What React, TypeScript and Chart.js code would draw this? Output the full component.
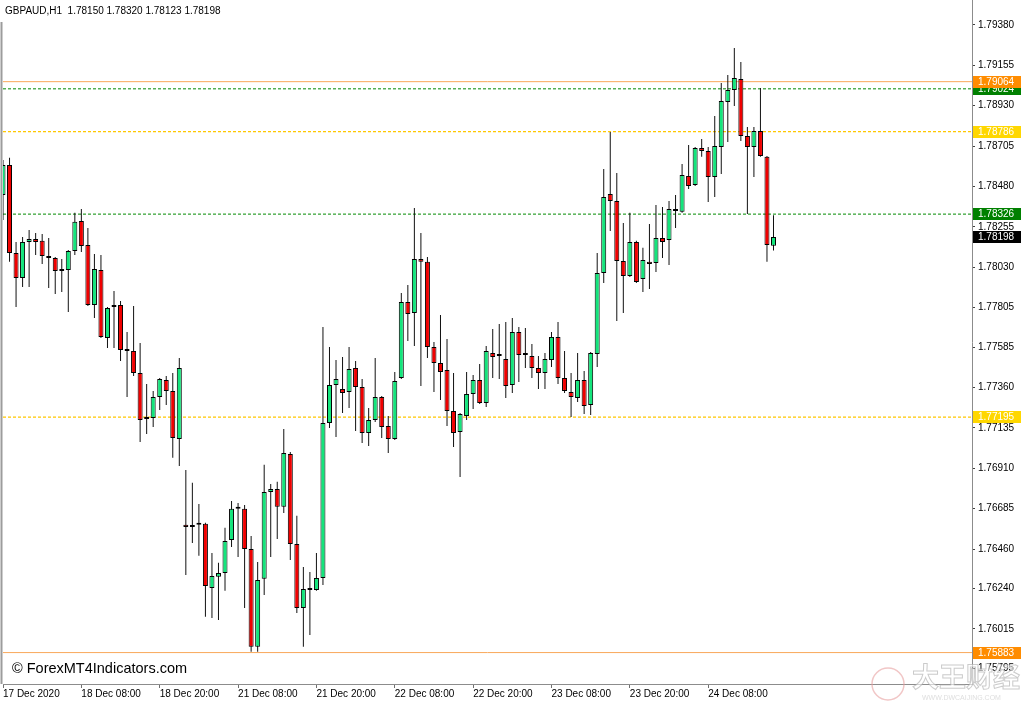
import React, { useEffect, useRef } from "react";
import { Chart, registerables } from "chart.js";

Chart.register(...registerables);

// ---------- data ----------
const SYMBOL = "GBPAUD,H1";
const COPYRIGHT = "© ForexMT4Indicators.com";
const WATERMARK = "大王财经";
const WATERMARK_URL = "WWW.DWCAIJING.COM";

// H1 bars from 17 Dec 2020 20:00 to 24 Dec 2020 18:00
const OPEN = [
  1.78433, 1.786, 1.7811, 1.7797, 1.78171, 1.78188, 1.78177, 1.78093, 1.78082, 1.78009,
  1.78015, 1.78121, 1.78288, 1.78154, 1.7782, 1.78015, 1.77636, 1.77809, 1.7782, 1.77569,
  1.77564, 1.77441, 1.77185, 1.7719, 1.77307, 1.77402, 1.77341, 1.77073, 1.76595, 1.76583,
  1.76595, 1.76601, 1.76243, 1.76305, 1.76327, 1.76511, 1.76695, 1.76684, 1.7646, 1.75915,
  1.76294, 1.76778, 1.76795, 1.76695, 1.7699, 1.76488, 1.76132, 1.76243, 1.76232, 1.76299,
  1.77162, 1.77374, 1.77352, 1.77335, 1.77469, 1.77363, 1.77107, 1.77179, 1.77307, 1.77146,
  1.77073, 1.77413, 1.77837, 1.77775, 1.78076, 1.7806, 1.77586, 1.77496, 1.77458, 1.77229,
  1.77112, 1.77201, 1.77324, 1.77402, 1.77274, 1.77552, 1.77536, 1.77519, 1.77374, 1.77669,
  1.77541, 1.77536, 1.77469, 1.77441, 1.77513, 1.77642, 1.77413, 1.77335, 1.77302, 1.77402,
  1.77263, 1.77547, 1.77998, 1.78438, 1.78399, 1.78065, 1.77981, 1.78171, 1.77965, 1.7806,
  1.78054, 1.78193, 1.78182, 1.78355, 1.78339, 1.78539, 1.78488, 1.78695, 1.78678, 1.78533,
  1.787, 1.78951, 1.79018, 1.79079, 1.78761, 1.787, 1.78789, 1.78645, 1.7815,
];
const HIGH = [
  1.78628, 1.7864, 1.78171, 1.78199, 1.78238, 1.78221, 1.78215, 1.78193, 1.78087, 1.78076,
  1.78126, 1.78333, 1.78355, 1.78249, 1.78104, 1.78098, 1.77809, 1.77898, 1.77842, 1.77669,
  1.77814, 1.77608, 1.7738, 1.77341, 1.77413, 1.77424, 1.77441, 1.77524, 1.76901, 1.76829,
  1.76711, 1.76606, 1.76438, 1.76383, 1.76578, 1.76728, 1.76717, 1.76706, 1.76533, 1.76388,
  1.76929, 1.76823, 1.76835, 1.77129, 1.77001, 1.76645, 1.7636, 1.76332, 1.76438, 1.77697,
  1.77586, 1.77513, 1.7753, 1.77586, 1.77508, 1.77407, 1.77246, 1.77524, 1.77313, 1.77201,
  1.77447, 1.77887, 1.77931, 1.7836, 1.78221, 1.78087, 1.77614, 1.77764, 1.7763, 1.77441,
  1.77218, 1.77447, 1.7743, 1.77491, 1.77591, 1.77686, 1.77714, 1.77725, 1.77747, 1.77697,
  1.77692, 1.77603, 1.77536, 1.77552, 1.77669, 1.77725, 1.77564, 1.77441, 1.77552, 1.77452,
  1.77558, 1.7811, 1.78578, 1.78784, 1.78555, 1.78277, 1.78333, 1.78177, 1.78138, 1.78271,
  1.78377, 1.78366, 1.78399, 1.78433, 1.78605, 1.78711, 1.787, 1.78745, 1.787, 1.78873,
  1.79057, 1.79101, 1.79252, 1.79174, 1.78812, 1.78812, 1.79029, 1.7865, 1.7832,
];
const LOW = [
  1.78293, 1.7806, 1.77809, 1.7792, 1.7792, 1.78098, 1.78048, 1.77915, 1.77881, 1.77892,
  1.77781, 1.78098, 1.78115, 1.77814, 1.77747, 1.77636, 1.7758, 1.7758, 1.77508, 1.77307,
  1.77424, 1.77056, 1.77101, 1.7714, 1.77235, 1.77263, 1.76968, 1.76923, 1.76316, 1.76494,
  1.76422, 1.76082, 1.76076, 1.76065, 1.76227, 1.76472, 1.76416, 1.76132, 1.75887, 1.75887,
  1.76204, 1.76416, 1.76516, 1.76661, 1.76399, 1.76104, 1.75915, 1.75981, 1.76227, 1.7626,
  1.77135, 1.77084, 1.77218, 1.77246, 1.77118, 1.77051, 1.77034, 1.77168, 1.77079, 1.76995,
  1.77068, 1.77407, 1.77619, 1.77591, 1.77369, 1.77524, 1.77335, 1.7729, 1.77146, 1.77029,
  1.76862, 1.77179, 1.7724, 1.77268, 1.77252, 1.77413, 1.77407, 1.77302, 1.7733, 1.77391,
  1.77469, 1.77413, 1.77352, 1.77352, 1.77474, 1.7738, 1.7733, 1.77196, 1.77279, 1.77212,
  1.77207, 1.77474, 1.77942, 1.78232, 1.77731, 1.77775, 1.77976, 1.77942, 1.77892, 1.77909,
  1.78004, 1.78082, 1.78043, 1.78249, 1.78333, 1.78466, 1.78483, 1.78645, 1.78394, 1.78422,
  1.7855, 1.78728, 1.78929, 1.78733, 1.78327, 1.78533, 1.78645, 1.7806, 1.78123,
];
const CLOSE = [
  1.786, 1.7811, 1.7797, 1.78171, 1.78188, 1.78171, 1.78093, 1.78082, 1.78009, 1.7802,
  1.78121, 1.78283, 1.78149, 1.7782, 1.7802, 1.77642, 1.77803, 1.7782, 1.77569, 1.77564,
  1.77441, 1.77179, 1.7719, 1.77307, 1.77407, 1.77341, 1.77079, 1.77469, 1.76583, 1.76583,
  1.76606, 1.76254, 1.7631, 1.76327, 1.76505, 1.76684, 1.76684, 1.7646, 1.75915, 1.76288,
  1.76778, 1.76795, 1.76695, 1.76995, 1.76488, 1.76132, 1.76238, 1.76232, 1.76299, 1.77162,
  1.77374, 1.77407, 1.7733, 1.77463, 1.77363, 1.77107, 1.77179, 1.77307, 1.7714, 1.77073,
  1.77396, 1.77837, 1.7777, 1.78076, 1.7806, 1.77586, 1.77496, 1.77447, 1.77229, 1.77107,
  1.77212, 1.77324, 1.77402, 1.77274, 1.77564, 1.7753, 1.77536, 1.77369, 1.77669, 1.77541,
  1.77541, 1.77469, 1.77441, 1.77519, 1.77642, 1.77413, 1.77341, 1.77307, 1.77402, 1.77257,
  1.77552, 1.77998, 1.78422, 1.78399, 1.78065, 1.77981, 1.78171, 1.77948, 1.78071, 1.78048,
  1.78193, 1.78171, 1.78355, 1.78344, 1.78544, 1.78483, 1.78695, 1.78678, 1.78533, 1.78706,
  1.78956, 1.79018, 1.79085, 1.78761, 1.787, 1.78789, 1.7865, 1.78154, 1.78198,
];

const X_TICK_BARS = [0, 12, 24, 36, 48, 60, 72, 84, 96, 108];
const X_TICK_LABELS = [
  "17 Dec 2020", "18 Dec 08:00", "18 Dec 20:00", "21 Dec 08:00", "21 Dec 20:00",
  "22 Dec 08:00", "22 Dec 20:00", "23 Dec 08:00", "23 Dec 20:00", "24 Dec 08:00",
];
const Y_TICKS = [
  1.7938, 1.79155, 1.7893, 1.78705, 1.7848, 1.78255, 1.7803, 1.77805, 1.77585,
  1.7736, 1.77135, 1.7691, 1.76685, 1.7646, 1.7624, 1.76015, 1.75795,
];
const Y_MIN = 1.75708;
const Y_MAX = 1.79519;
const X_SLOTS = 148.4; // visible bar slots in the window

// horizontal levels
const LEVEL_VALUES = [1.79064, 1.79024, 1.78786, 1.78326, 1.77195, 1.75883];
const LEVEL_KIND = ["orange", "green", "gold", "green", "gold", "orange"];

// ---------- styles ----------
const UP = "#14e57c";
const DOWN = "#f00000";
const LINE_STYLE: Record<string, { color: string; dash: number[]; tag: string; width: number }> = {
  orange: { color: "#f9a85a", dash: [], tag: "#ff8c00", width: 1 },
  green: { color: "#008a00", dash: [3, 2], tag: "#008000", width: 1 },
  gold: { color: "#ffc800", dash: [3, 2], tag: "#ffd700", width: 1.3 },
};
const FONT = "'Liberation Sans', Arial, sans-serif";

const overlayPlugin = {
  id: "mt4Overlay",
  beforeDraw(chart: any) {
    const { ctx, width, height } = chart;
    ctx.save();
    ctx.fillStyle = "#ffffff";
    ctx.fillRect(0, 0, width, height);
    ctx.restore();
  },
  afterDraw(chart: any) {
    const { ctx, chartArea } = chart;
    const yScale = chart.scales.y;
    const last = CLOSE.length - 1;
    ctx.save();
    // left frame
    ctx.strokeStyle = "#9c9c9c";
    ctx.lineWidth = 2;
    ctx.beginPath();
    ctx.moveTo(1.5, 22);
    ctx.lineTo(1.5, chartArea.bottom);
    ctx.stroke();

    // header
    ctx.fillStyle = "#000";
    ctx.textAlign = "left";
    ctx.textBaseline = "middle";
    ctx.font = `10px ${FONT}`;
    ctx.fillText(
      `${SYMBOL}  ${OPEN[last].toFixed(5)} ${HIGH[last].toFixed(5)} ${LOW[last].toFixed(5)} ${CLOSE[last].toFixed(5)}`,
      5,
      11
    );
    // copyright
    ctx.font = `14.5px ${FONT}`;
    ctx.fillText(COPYRIGHT, 12, 669);

    // price tags on the axis
    const tags: { v: number; bg: string }[] = [];
    const order = [1, 0, 2, 3, 4, 5];
    order.forEach((k) => tags.push({ v: LEVEL_VALUES[k], bg: LINE_STYLE[LEVEL_KIND[k]].tag }));
    tags.push({ v: CLOSE[last], bg: "#000000" });
    ctx.font = `10px ${FONT}`;
    tags.forEach((t) => {
      const py = yScale.getPixelForValue(t.v);
      ctx.fillStyle = t.bg;
      ctx.fillRect(chartArea.right + 1, Math.round(py) - 6, 48, 12);
      ctx.fillStyle = "#ffffff";
      ctx.fillText(t.v.toFixed(5), chartArea.right + 6, Math.round(py) + 0.5);
    });

    // watermark
    ctx.globalAlpha = 0.6;
    ctx.strokeStyle = "#e8a0a0";
    ctx.lineWidth = 1.5;
    ctx.beginPath();
    ctx.arc(888, 684, 16, 0, Math.PI * 2);
    ctx.stroke();
    ctx.font = `bold 27px 'Noto Sans CJK SC', sans-serif`;
    ctx.lineWidth = 1;
    ctx.strokeStyle = "#a8a8a8";
    ctx.fillStyle = "#ffffff";
    ctx.textBaseline = "middle";
    ctx.fillText(WATERMARK, 912, 677);
    ctx.strokeText(WATERMARK, 912, 677);
    ctx.font = `7px ${FONT}`;
    ctx.fillStyle = "#c8c8c8";
    ctx.fillText(WATERMARK_URL, 922, 698);
    ctx.restore();
  },
};

export default function App() {
  const ref = useRef<HTMLCanvasElement | null>(null);

  useEffect(() => {
    document.body.style.margin = "0";
    const canvas = ref.current;
    if (!canvas) return;

    const idx = OPEN.map((_, i) => i);
    const bodyColors = idx.map((i) =>
      CLOSE[i] > OPEN[i] ? UP : CLOSE[i] < OPEN[i] ? DOWN : "#000000"
    );

    const levelSets = LEVEL_VALUES.map((v, k) => {
      const st = LINE_STYLE[LEVEL_KIND[k]];
      return {
        type: "line" as const,
        label: `level ${v}`,
        data: [
          { x: 0, y: v },
          { x: X_SLOTS, y: v },
        ],
        borderColor: st.color,
        borderWidth: st.width,
        borderDash: st.dash,
        pointRadius: 0,
        fill: false,
        order: 5,
      };
    });

    const chart = new Chart(canvas, {
      type: "bar",
      data: {
        datasets: [
          {
            type: "bar",
            label: "body",
            data: idx.map((i) => ({ x: i, y: [OPEN[i], CLOSE[i]] })) as any,
            backgroundColor: bodyColors,
            borderColor: "#000000",
            borderWidth: 1,
            borderSkipped: false,
            barThickness: 5,
            minBarLength: 2,
            grouped: false,
            inflateAmount: 0,
            order: 0,
          } as any,
          {
            type: "bar",
            label: "wick",
            data: idx.map((i) => ({ x: i, y: [LOW[i], HIGH[i]] })) as any,
            backgroundColor: "#111111",
            borderWidth: 0,
            barThickness: 1,
            grouped: false,
            inflateAmount: 0,
            order: 1,
          } as any,
          ...(levelSets as any[]),
        ],
      },
      options: {
        responsive: false,
        maintainAspectRatio: false,
        devicePixelRatio: 1,
        animation: false,
        events: [],
        layout: { padding: { left: 3, top: 0, right: 0, bottom: 0 } },
        plugins: {
          legend: { display: false },
          tooltip: { enabled: false },
          title: { display: false },
        },
        scales: {
          x: {
            type: "linear",
            position: "bottom",
            min: 0,
            max: X_SLOTS,
            offset: false,
            grid: {
              display: true,
              drawOnChartArea: false,
              drawTicks: true,
              tickLength: 4,
              color: "#707070",
              offset: false,
            },
            border: { display: true, color: "#8c8c8c", width: 1 },
            ticks: {
              autoSkip: false,
              maxRotation: 0,
              minRotation: 0,
              align: "start",
              padding: 0,
              color: "#000",
              font: { family: FONT, size: 10 },
              callback: (v: any) => {
                const k = X_TICK_BARS.indexOf(Number(v));
                return k >= 0 ? X_TICK_LABELS[k] : "";
              },
            },
            afterBuildTicks: (axis: any) => {
              axis.ticks = X_TICK_BARS.map((v) => ({ value: v }));
            },
            afterFit: (axis: any) => {
              axis.height = 20;
              axis.paddingLeft = 0;
              axis.paddingRight = 0;
            },
          } as any,
          y: {
            type: "linear",
            position: "right",
            min: Y_MIN,
            max: Y_MAX,
            grid: {
              display: true,
              drawOnChartArea: false,
              drawTicks: true,
              tickLength: 3,
              color: "#404040",
            },
            border: { display: true, color: "#8c8c8c", width: 1 },
            ticks: {
              padding: 3,
              color: "#000",
              font: { family: FONT, size: 10 },
              callback: (v: any) => Number(v).toFixed(5),
            },
            afterBuildTicks: (axis: any) => {
              axis.ticks = Y_TICKS.map((v) => ({ value: v }));
            },
            afterFit: (axis: any) => {
              axis.width = 52;
              axis.paddingTop = 0;
              axis.paddingBottom = 0;
            },
          } as any,
        },
      },
      plugins: [overlayPlugin],
    });

    return () => chart.destroy();
  }, []);

  return (
    <div style={{ width: 1024, height: 704, position: "relative", background: "#fff" }}>
      <canvas ref={ref} width={1024} height={704} style={{ display: "block" }} />
    </div>
  );
}
